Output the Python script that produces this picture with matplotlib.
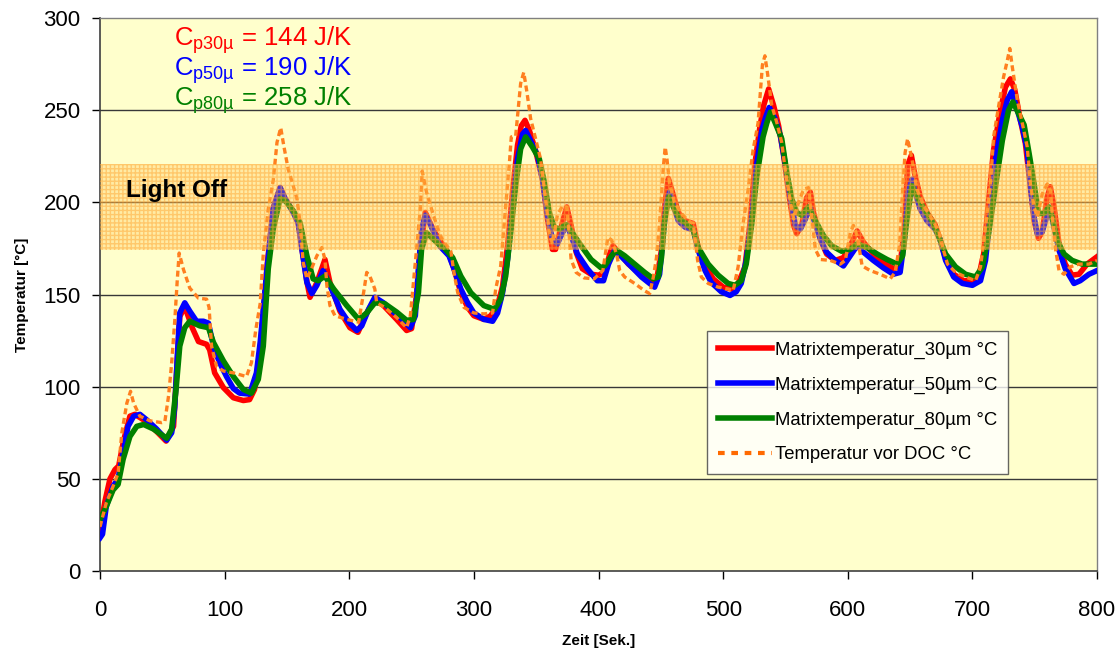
import matplotlib
matplotlib.use("Agg")
import matplotlib.pyplot as plt
from matplotlib.lines import Line2D

plt.rcParams["font.family"] = ["Liberation Sans", "DejaVu Sans"]
plt.rcParams["hatch.linewidth"] = 1.0

# Matrixtemperatur 30 µm
t_30 = [0, 4, 8, 12, 15, 19, 24, 28, 35, 45, 53, 59, 62, 64, 68, 74, 79, 85.5, 88, 92,
        99, 107, 115, 120, 124, 128, 131, 134, 139, 144.5, 148.5, 155, 159, 162, 166, 168.5,
        174, 180.5, 184.5, 192.5, 200.5, 207, 214, 220.5, 227.5, 238, 246, 250, 254, 257,
        261, 267.5, 273, 280, 284, 289.5, 295, 300, 308, 313.5, 319, 323, 327, 331, 335,
        338, 341, 344.5, 349.5, 355, 359, 363, 365.5, 369.5, 374.5, 378, 382, 387, 394,
        400, 405, 409, 411.5, 416, 424, 434.5, 442.5, 446.5, 450.5, 453, 456, 458.5, 464,
        469.5, 476, 480, 485.5, 492, 500, 506.5, 512, 517.5, 521.5, 525.5, 529.5, 532.5,
        536.5, 540.5, 544.5, 548.5, 552.5, 556.5, 559, 563, 567, 570, 572.5, 578, 583,
        590, 596.5, 602, 607.5, 612.5, 620.5, 628.5, 636.5, 642, 645.5, 648, 651, 654,
        658, 663.5, 670, 674, 678.5, 685, 693, 700, 705, 709, 713, 717, 722.5, 726.5,
        730.5, 734, 738.5, 742.5, 746.5, 749.5, 753, 756, 760, 762.5, 765.5, 769.5, 774.5,
        780, 785.5, 792, 800]
T_30 = [22, 38, 50, 55, 57, 71, 84, 85, 82, 76, 70.5, 78.5, 114.5, 138, 143.5, 132, 124.5,
        123, 120, 107.5, 99.5, 94, 92.5, 93, 98.5, 116.5, 140, 165, 197, 208, 202, 195, 189,
        175, 157, 148.5, 156.5, 169, 156.5, 141, 132, 129.5, 140, 147.5, 144, 136.5, 130.5,
        131.5, 149.5, 174.5, 194.5, 185, 179, 172, 164, 151, 143, 138.5, 136.5, 138.5, 144,
        154.5, 176.5, 205.5, 231, 241.5, 244.5, 239, 228, 212.5, 191, 174.5, 174.5, 185.5,
        197.5, 187.5, 173, 164, 161, 160.5, 162, 172, 176.5, 173, 166.5, 160.5, 157.5,
        157.5, 174, 197.5, 213, 207.5, 194.5, 190, 188.5, 175.5, 166, 158.5, 154, 153, 156,
        165, 188.5, 221, 241, 252.5, 261.5, 252.5, 241.5, 225.5, 205.5, 187.5, 183, 187.5,
        202.5, 205.5, 194.5, 180, 172, 168.5, 170, 176.5, 184.5, 178.5, 172, 167.5, 164,
        165.5, 187.5, 220, 225.5, 214.5, 203.5, 194.5, 188, 180, 169.5, 161, 157.5, 157.5,
        159.5, 172, 201, 228.5, 250, 262.5, 267, 261, 244.5, 232, 208.5, 190, 180.5, 184,
        203, 208.5, 197.5, 177.5, 166.5, 160.5, 161, 166.5, 170.5]

# Matrixtemperatur 50 µm
t_50 = [0, 2, 5, 10.5, 14.5, 18.5, 22.5, 27, 32, 37.5, 45.5, 53.5, 57.5, 60, 62, 64, 68,
        72, 77.5, 83, 87, 91, 96, 101.5, 107, 112, 120, 125.5, 128.5, 130, 134, 139, 144.5,
        148.5, 155, 159, 162, 166, 170, 174, 179, 184.5, 192.5, 199.5, 206, 210, 215.5,
        220.5, 227.5, 235.5, 243.5, 249, 253, 255.5, 258, 261, 265, 273, 280, 284, 289.5,
        295, 300, 308, 315, 319, 323, 327, 331, 335, 339, 341.5, 345.5, 351, 355, 359, 363,
        367, 371, 375, 379, 383, 391, 399, 404, 408, 413, 418.5, 426.5, 434.5, 441, 445,
        449, 452, 454.5, 457, 460, 464, 469.5, 476, 480, 485.5, 490.5, 498.5, 505.5, 510.5,
        514.5, 518.5, 523, 527, 531, 534, 537, 541.5, 546, 550, 554, 558, 562, 566, 569.5,
        572.5, 578, 583, 590, 596.5, 602, 607.5, 612.5, 620.5, 628.5, 636.5, 642, 645.5,
        648.5, 651.5, 654, 658, 663.5, 670, 674, 678.5, 685, 692, 700, 706.5, 710.5, 714.5,
        718.5, 724, 728, 731.5, 734.5, 740, 744, 746.5, 749.5, 752, 756, 760, 762.5, 765.5,
        769.5, 774.5, 781.5, 786.5, 793.5, 800]
T_50 = [18, 20, 35, 46, 50, 64, 78.5, 84, 85, 82, 77, 71, 75, 89, 116, 140, 145.5, 141,
        135.5, 135.5, 134.5, 122, 113, 105.5, 99, 96.5, 96, 107.5, 124, 134.5, 164, 196.5,
        208, 202, 194.5, 189, 174.5, 156.5, 150.5, 155, 163, 155, 142, 135, 130.5, 133,
        142, 148.5, 145.5, 140.5, 136, 132, 138.5, 164, 185.5, 193, 188, 176, 171, 164, 153,
        145.5, 140, 136.5, 135.5, 140, 151, 169, 196.5, 223.5, 237, 239, 233.5, 225.5,
        212.5, 193, 180, 177.5, 183.5, 187.5, 180, 172, 164, 157.5, 157.5, 166.5, 174,
        170.5, 165, 159.5, 156, 154, 161, 183, 199.5, 205.5, 198.5, 190, 186.5, 185, 174,
        163, 156.5, 151.5, 149.5, 151.5, 156, 168.5, 192, 221, 239, 246, 251.5, 245.5, 236,
        220, 202, 187.5, 185.5, 191, 197.5, 191, 180, 173, 168.5, 165.5, 171, 176.5, 173,
        168.5, 164.5, 161, 162, 180, 205.5, 212.5, 205.5, 196.5, 190, 185.5, 180, 168.5,
        159.5, 156, 155, 157.5, 168.5, 194, 223, 244.5, 255.5, 260, 253.5, 241, 228.5,
        208.5, 192, 183, 184, 193, 195.5, 186.5, 174, 164, 156, 157.5, 161, 163]

# Matrixtemperatur 80 µm
t_80 = [0, 5, 10.5, 14.5, 18.5, 24, 29.5, 35, 43, 53.5, 57.5, 61, 64, 68, 72, 80, 87, 91,
        99, 107, 115, 121.5, 127, 131, 135, 139, 144.5, 148.5, 155, 160.5, 166, 171, 175,
        180.5, 187.5, 198, 207.5, 214, 220.5, 228.5, 238, 246, 251.5, 255.5, 258, 262,
        267.5, 273, 276, 283, 289.5, 297.5, 308, 316.5, 321.5, 325.5, 329.5, 333.5, 337.5,
        341.5, 347, 352.5, 356.5, 360.5, 364.5, 368.5, 374, 379, 386, 394, 402, 405, 410.5,
        414.5, 421, 429, 437, 444, 448, 450.5, 453, 456.5, 460, 465, 470.5, 476, 480, 488,
        496, 504, 509.5, 514.5, 518.5, 523, 527, 532, 535, 538, 541.5, 547, 551, 555, 559,
        563, 568.5, 574, 580.5, 587, 595, 602, 607.5, 615.5, 623.5, 631.5, 639.5, 644,
        647.5, 651.5, 655.5, 661, 667.5, 673, 678.5, 686.5, 694.5, 702.5, 708, 713, 718.5,
        724, 729, 732.5, 736.5, 741.5, 745.5, 749.5, 753, 757.5, 761.5, 764, 768, 773.5,
        780, 788, 800]
T_80 = [28, 35, 44, 47, 60.5, 73, 78.5, 79.5, 77, 72, 77, 98.5, 122, 132, 135.5, 133, 132,
        124, 114, 105.5, 98.5, 96.5, 104, 122, 164, 185.5, 202, 201, 195.5, 189, 171,
        158.5, 157.5, 160, 153, 144, 136.5, 140, 145.5, 145, 140.5, 136, 136.5, 151, 174.5,
        183.5, 180, 176.5, 175.5, 170, 160, 151, 144, 142, 147.5, 160, 183.5, 209, 229,
        235.5, 230, 223.5, 211, 194.5, 186.5, 185.5, 188, 183.5, 176.5, 169, 164.5, 165.5,
        171, 174, 171, 166.5, 162, 158.5, 159.5, 170, 190, 203, 197.5, 191, 188.5, 185,
        175.5, 166.5, 160.5, 156, 155, 157.5, 166.5, 188.5, 214, 235.5, 243, 249, 243.5,
        234.5, 216.5, 202, 194.5, 193, 197.5, 190, 182, 176.5, 173.5, 174.5, 177.5, 175.5,
        172, 169, 166.5, 171, 191, 209, 203.5, 196.5, 190, 181.5, 172, 165, 161, 159.5, 165,
        183, 208.5, 233.5, 250, 254.5, 249, 242, 226.5, 210, 194, 194, 197.5, 192, 179.5,
        172, 168.5, 166.5, 166.5]

# Temperatur vor DOC
t_doc = [0, 5, 10.5, 14.5, 17.5, 21.5, 24.5, 27, 32, 40, 49.5, 52, 55, 57.5, 60, 62, 63.5,
         67, 72, 79, 85.5, 87.5, 89.5, 93.5, 99, 107, 117.5, 121.5, 125, 128.5, 131, 135, 139,
         142, 145, 147.5, 151, 155, 158, 160.5, 163, 166, 170, 174, 178, 180.5, 182, 184.5,
         188.5, 198, 207.5, 211.5, 214, 216.5, 220.5, 222, 228.5, 238, 246, 249, 251.5, 254,
         257, 258.5, 262, 267.5, 273, 276, 281.5, 284, 287, 292, 300, 308, 315, 317.5, 321.5,
         325.5, 328.5, 330, 333.5, 335.5, 337.5, 340, 342.5, 345.5, 349.5, 353.5, 357.5,
         360.5, 363, 367, 371, 374.5, 376.5, 378, 382, 388.5, 396.5, 403.5, 407.5, 410.5,
         414.5, 417, 421, 429, 437, 441, 444, 446.5, 449, 452, 453.5, 455, 457, 461, 466.5,
         472, 476, 478, 479.5, 482.5, 488, 496, 504, 508, 512, 516, 520, 524, 526, 528,
         531.5, 533.5, 535.5, 539, 543, 547, 550, 554, 556.5, 560.5, 564.5, 568.5, 571, 574,
         578, 586, 594, 598, 602, 604.5, 607.5, 611.5, 618, 626, 634, 638, 641.5, 644, 646,
         648, 651.5, 655.5, 661, 667.5, 673, 676, 680, 686.5, 694.5, 702.5, 706.5, 710.5,
         714.5, 717, 721, 725, 728, 730, 732, 736, 740, 744, 746.5, 749.5, 752, 756, 760,
         762.5, 764.5, 766.5, 769.5, 773.5, 778.5, 785.5, 793.5, 800]
T_doc = [24, 37, 46, 53, 75, 91, 97.5, 91, 84, 81.5, 80.5, 81, 95, 113, 136, 158, 172.5,
         163.5, 153.5, 148, 147.5, 143, 122, 111, 108.5, 107.5, 105.5, 113, 131, 145, 172,
         196.5, 212, 232.5, 240.5, 230.5, 218, 209, 202, 189, 167.5, 158.5, 164.5, 171,
         175.5, 169, 155, 144, 138.5, 136.5, 135, 151, 162, 160, 153, 145.5, 143, 137.5, 132,
         138.5, 156.5, 174.5, 196.5, 217, 205.5, 193, 182, 178.5, 173.5, 162, 151, 143, 140,
         139.5, 140, 153, 165.5, 198, 221.5, 235.5, 236, 250, 264.5, 270.5, 260, 245.5,
         234.5, 223.5, 202, 183.5, 177.5, 193, 198, 197.5, 182, 169, 162, 159, 158.5, 163,
         181, 179.5, 172, 163, 159.5, 156, 152, 150.5, 159.5, 170, 188.5, 219, 230, 223, 210,
         200, 194, 190, 188.5, 177.5, 168.5, 159.5, 156, 154, 153, 152, 165, 188.5, 206.5,
         228.5, 235.5, 243, 274.5, 279.5, 270.5, 252.5, 243.5, 232.5, 216.5, 200, 191, 200,
         207, 208, 193, 174.5, 169, 168.5, 166.5, 168.5, 183.5, 187.5, 182, 165.5, 163, 161,
         158.5, 162, 176.5, 207, 227, 234.5, 223.5, 207, 198, 191, 184.5, 176, 166.5, 162,
         159.5, 157.5, 165, 186.5, 210, 235.5, 252, 268, 277, 283.5, 273.5, 255.5, 243, 230,
         210, 197.5, 192, 204.5, 210, 206.5, 190, 175.5, 163, 161, 165, 166.5, 166.5, 168.5]

cp_labels = ["p30µ", "p50µ", "p80µ"]
cp_values = [144, 190, 258]
series_names = ["Matrixtemperatur_30µm °C", "Matrixtemperatur_50µm °C",
                "Matrixtemperatur_80µm °C", "Temperatur vor DOC °C"]
light_off = (174, 221)

RED = "#FF0000"
BLUE = "#0000FF"
GREEN = "#008000"
ORANGE = "#FF7F1F"

fig = plt.figure(figsize=(11.2, 6.55), dpi=100)
ax = fig.add_axes([0.0893, 0.1282, 0.8902, 0.8443])
ax.set_facecolor("#FFFFCC")

# grid lines behind everything
for y in range(50, 300, 50):
    ax.axhline(y, color="#383838", linewidth=1.0, zorder=1)

ax.plot(t_30, T_30, color=RED, linewidth=4, solid_joinstyle="round", zorder=3)
ax.plot(t_50, T_50, color=BLUE, linewidth=4, solid_joinstyle="round", zorder=3.1)
ax.plot(t_80, T_80, color=GREEN, linewidth=4, solid_joinstyle="round", zorder=3.2)
ax.plot(t_doc, T_doc, color=ORANGE, linewidth=2.4, linestyle=(0, (1.8, 1.1)), zorder=3.3)

# Light Off band lies over the curves
ax.axhspan(light_off[0], light_off[1], facecolor=(1.0, 0.75, 0.3, 0.3),
           edgecolor=(1.0, 0.65, 0.2, 0.5), hatch="++++", linewidth=0, zorder=4)
ax.text(21, 206.5, "Light Off", fontsize=17.5, fontweight="bold", va="center", ha="left", zorder=6)

# heat capacities
cp_colors = [RED, BLUE, GREEN]
for i, (lab, val, col) in enumerate(zip(cp_labels, cp_values, cp_colors)):
    ax.text(59, 288 - i * 16.3, "C$_{\\mathregular{" + lab + "}}$ = " + str(val) + " J/K",
            color=col, fontsize=18.5, va="center", ha="left", zorder=6)

ax.set_xlim(0, 800)
ax.set_ylim(0, 300)
ax.set_xticks(range(0, 801, 100))
ax.set_yticks(range(0, 301, 50))
ax.tick_params(axis="x", direction="out", length=6, width=1, pad=15, labelsize=16)
ax.tick_params(axis="y", direction="out", length=6, width=1, pad=8, labelsize=16)

for side in ["top", "right"]:
    ax.spines[side].set_color("#808080")
    ax.spines[side].set_linewidth(1.0)
for side in ["left", "bottom"]:
    ax.spines[side].set_color("#404040")
    ax.spines[side].set_linewidth(1.2)

ax.set_xlabel("Zeit [Sek.]", fontsize=11, fontweight="bold", labelpad=9)
ax.set_ylabel("Temperatur [°C]", fontsize=11, fontweight="bold", labelpad=10)

handles = [
    Line2D([], [], color=RED, linewidth=4),
    Line2D([], [], color=BLUE, linewidth=4),
    Line2D([], [], color=GREEN, linewidth=4),
    Line2D([], [], color="#FF6A00", linewidth=3, linestyle=(0, (1.6, 1.6))),
]
leg = ax.legend(handles, series_names, loc="lower left", bbox_to_anchor=(0.609, 0.175),
                borderaxespad=0, fontsize=13.3, frameon=True, fancybox=False,
                handlelength=2.9, handletextpad=0.15, labelspacing=0.95,
                borderpad=0.6)
leg.get_frame().set_edgecolor("#404040")
leg.get_frame().set_linewidth(1.0)
leg.set_zorder(7)

fig.savefig("out.png", dpi=100)
